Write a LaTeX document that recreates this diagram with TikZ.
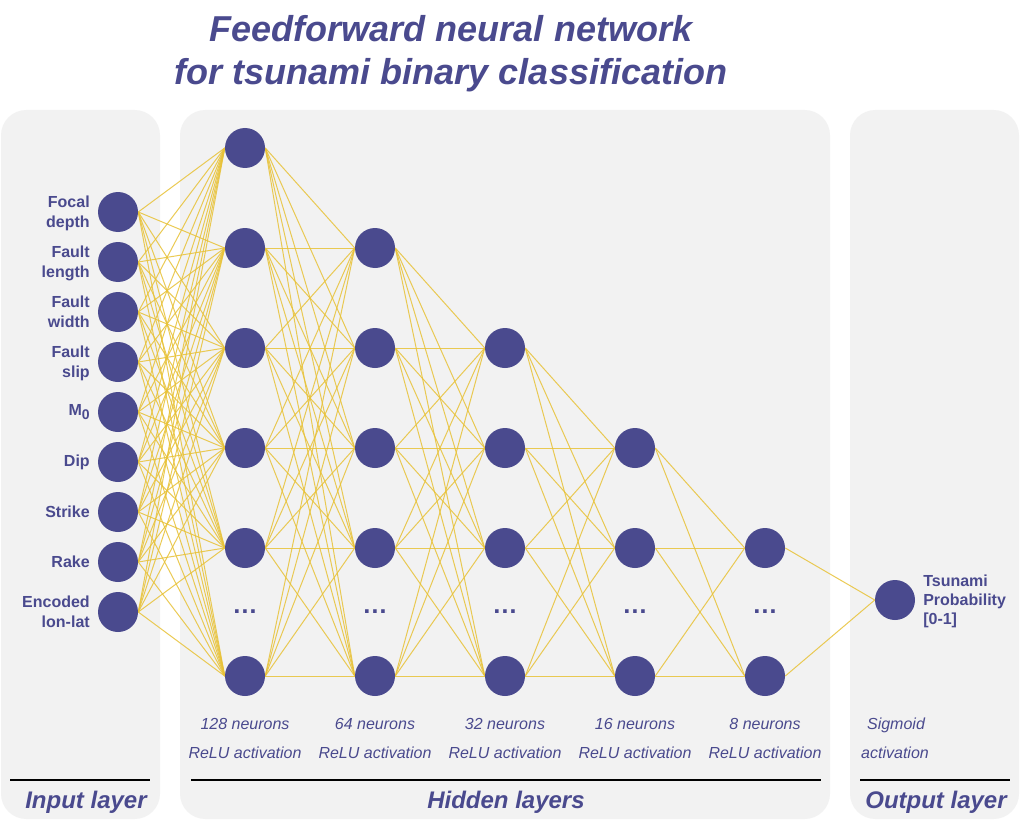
\documentclass[tikz,border=0pt]{standalone}
\usepackage{fontspec}
\setmainfont{Liberation Sans}
\definecolor{nn}{RGB}{74,74,142}
\definecolor{edgec}{RGB}{232,194,55}
\definecolor{panel}{RGB}{242,242,242}
\pgfdeclarelayer{panels}
\pgfdeclarelayer{edges}
\pgfsetlayers{panels,edges,main}
\tikzset{
  neuron/.style={circle, fill=nn, draw=none, minimum size=30pt, inner sep=0pt},
  edge/.style={draw=edgec, line width=0.75pt, opacity=0.85},
  panelbox/.style={fill=panel, draw=none, rounded corners=19pt},
  inlabel/.style={anchor=east, align=right, inner sep=0pt, text=nn, font=\bfseries\fontsize{12}{15}\selectfont},
  outlabel/.style={anchor=west, align=left, inner sep=0pt, text=nn, font=\bfseries\fontsize{12}{14.25}\selectfont},
  lyrtext/.style={anchor=base, inner sep=0pt, text=nn, font=\itshape\fontsize{12}{14}\selectfont},
  dotstext/.style={anchor=base, inner sep=0pt, text=nn, font=\bfseries\fontsize{19}{22}\selectfont},
  titletext/.style={anchor=base, inner sep=0pt, text=nn, font=\bfseries\itshape\fontsize{27}{32}\selectfont},
  grouptext/.style={anchor=base, inner sep=0pt, text=nn, font=\bfseries\itshape\fontsize{18}{22}\selectfont},
  rule/.style={draw=black, line width=1.1pt}
}
\begin{document}
\begin{tikzpicture}[x=0.75pt, y=-0.75pt]
\useasboundingbox (0,0) rectangle (1020,820);
% panels
\begin{pgfonlayer}{panels}
\fill[white] (0,0) rectangle (1020,820);
\path[panelbox] (1,110) rectangle (160,819);
\path[panelbox] (180,110) rectangle (830,819);
\path[panelbox] (850,110) rectangle (1019,819);
\end{pgfonlayer}
% title
\node[titletext] (title1) at (451,42) {Feedforward neural network};
\node[titletext] (title2) at (451,85) {for tsunami binary classification};
% input neurons
\foreach \k in {1,...,9} {
  \node[neuron] (in\k) at (118,{212+50*(\k-1)}) {};
}
\node[inlabel] (lab1) at (90,213) {Focal\\depth};
\node[inlabel] (lab2) at (90,263) {Fault\\length};
\node[inlabel] (lab3) at (90,312) {Fault\\width};
\node[inlabel] (lab4) at (90,363) {Fault\\slip};
\node[inlabel] (lab5) at (90,412) {M\raisebox{-2.4pt}{\fontsize{10.5}{12}\selectfont 0}};
\node[inlabel] (lab6) at (90,462) {Dip};
\node[inlabel] (lab7) at (90,512) {Strike};
\node[inlabel] (lab8) at (90,562) {Rake};
\node[inlabel] (lab9) at (90,612) {Encoded\\lon-lat};
% hidden layers
\foreach \y [count=\k] in {148,248,348,448,548,676} \node[neuron] (a\k) at (245,\y) {};
\foreach \y [count=\k] in {248,348,448,548,676} \node[neuron] (b\k) at (375,\y) {};
\foreach \y [count=\k] in {348,448,548,676} \node[neuron] (c\k) at (505,\y) {};
\foreach \y [count=\k] in {448,548,676} \node[neuron] (d\k) at (635,\y) {};
\foreach \y [count=\k] in {548,676} \node[neuron] (e\k) at (765,\y) {};
\node[neuron] (out) at (895,600) {};
% dots
\foreach \x/\n in {245/da,375/db,505/dc,635/dd,765/de} \node[dotstext] (\n) at (\x,613) {…};
% edges
\begin{pgfonlayer}{edges}
\foreach \i in {1,...,9} \foreach \j in {1,...,6} \draw[edge] (in\i.east) -- (a\j.west);
\foreach \i in {1,...,6} \foreach \j in {1,...,5} \draw[edge] (a\i.east) -- (b\j.west);
\foreach \i in {1,...,5} \foreach \j in {1,...,4} \draw[edge] (b\i.east) -- (c\j.west);
\foreach \i in {1,...,4} \foreach \j in {1,...,3} \draw[edge] (c\i.east) -- (d\j.west);
\foreach \i in {1,...,3} \foreach \j in {1,...,2} \draw[edge] (d\i.east) -- (e\j.west);
\foreach \i in {1,...,2} \draw[edge] (e\i.east) -- (out.west);
\end{pgfonlayer}
% output label
\node[outlabel] (outlab) at (923,601) {Tsunami\\Probability\\{[0-1]}};
% layer descriptions
\node[lyrtext] (n1) at (245,729) {128 neurons};
\node[lyrtext] (r1) at (245,758) {ReLU activation};
\node[lyrtext] (n2) at (375,729) {64 neurons};
\node[lyrtext] (r2) at (375,758) {ReLU activation};
\node[lyrtext] (n3) at (505,729) {32 neurons};
\node[lyrtext] (r3) at (505,758) {ReLU activation};
\node[lyrtext] (n4) at (635,729) {16 neurons};
\node[lyrtext] (r4) at (635,758) {ReLU activation};
\node[lyrtext] (n5) at (765,729) {8 neurons};
\node[lyrtext] (r5) at (765,758) {ReLU activation};
\node[lyrtext] (s1) at (896,729) {Sigmoid};
\node[lyrtext] (s2) at (895,758) {activation};
% rules
\draw[rule] (10,780) -- (150,780);
\draw[rule] (191,780) -- (821,780);
\draw[rule] (860,780) -- (1010,780);
% group labels
\node[grouptext] (g1) at (86,808) {Input layer};
\node[grouptext] (g2) at (506,808) {Hidden layers};
\node[grouptext] (g3) at (936,808) {Output layer};
\end{tikzpicture}
\end{document}
